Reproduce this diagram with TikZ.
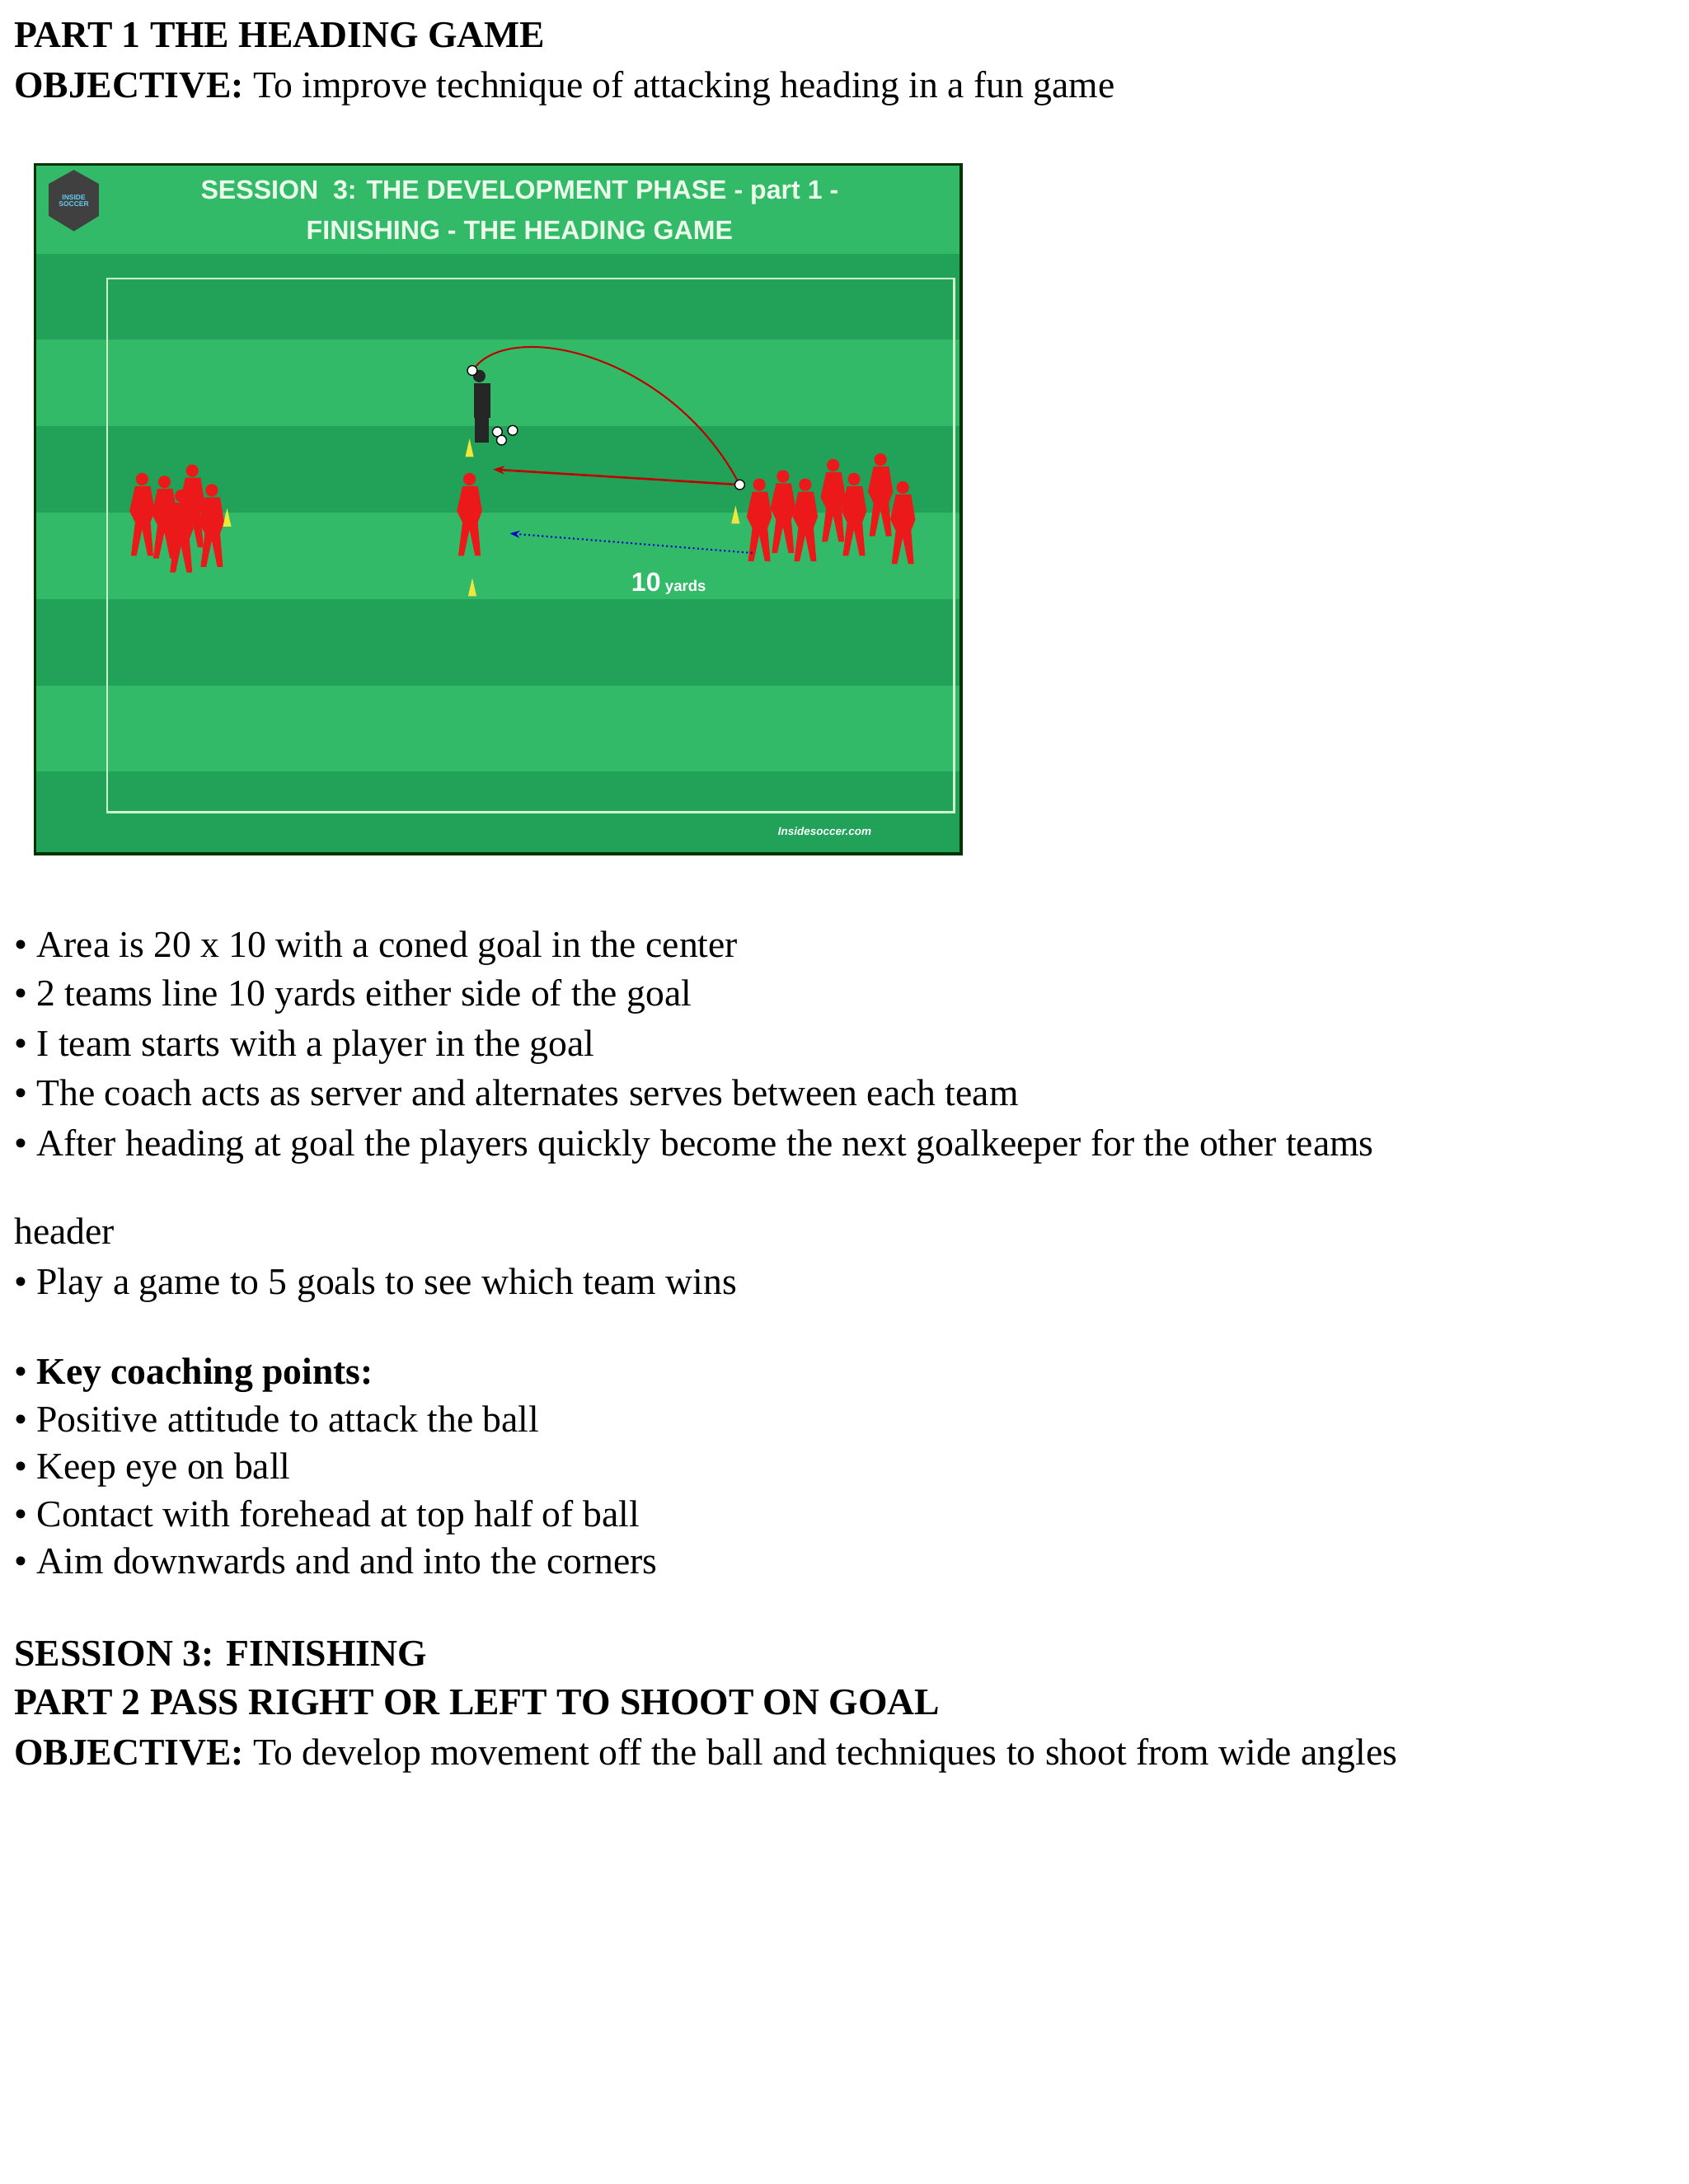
\documentclass[tikz,border=0pt]{standalone}
\usepackage{fontspec}
\setmainfont{Liberation Serif}
\newfontfamily\sansb{Liberation Sans}
\usetikzlibrary{arrows.meta}
\definecolor{glight}{RGB}{50,186,104}
\definecolor{gdark}{RGB}{34,162,88}
\definecolor{pred}{RGB}{235,25,25}
\definecolor{coney}{RGB}{240,230,60}
\tikzset{x=1pt,y=-1pt,
 txt/.style={anchor=base west,inner sep=0pt,font=\fontsize{27}{30}\selectfont},
 cone/.style={fill=coney},
 ball/.style={circle,draw=black,fill=white,inner sep=0pt,minimum size=7pt,line width=0.8pt}}
\newcommand{\plr}[2]{%
 \fill[pred] (#1,#2-28) circle (4.5);
 \fill[pred] (#1-5,#2-23) -- (#1+6,#2-23) -- (#1+9,#2-5) -- (#1+6,#2+3) -- (#1+8,#2+27) -- (#1+4,#2+27) -- (#1,#2+8) -- (#1-4,#2+27) -- (#1-8,#2+27) -- (#1-5,#2+3) -- (#1-9,#2-5) -- cycle;}
\newcommand{\cn}[2]{\fill[coney] (#1-3,#2+6) -- (#1,#2-7) -- (#1+3,#2+6) -- cycle;}
\begin{document}
\begin{tikzpicture}
\useasboundingbox (0,0) rectangle (1212,1568);
\fill[white] (0,0) rectangle (1212,1568);
\node[txt,font=\fontsize{27}{30}\selectfont\bfseries] (h1) at (10,34) {PART 1 THE HEADING GAME};
\node[txt] (h2) at (10,70) {\textbf{OBJECTIVE:} To improve technique of attacking heading in a fun game};
% field
\fill[glight] (25,118) rectangle (690,613);
\foreach \y in {182,306,430,554} \fill[gdark] (25,\y) rectangle (690,{min(\y+62,613)});
\draw[line width=2pt,black!80!green] (25,118) rectangle (690,613);
\draw[white!80!green,line width=1.5pt] (77,200) rectangle (685,583);
\fill[black!75] (53,122) -- (71,132) -- (71,155) -- (53,166) -- (35,155) -- (35,132) -- cycle;
\node[font=\sansb\bfseries\fontsize{5}{5}\selectfont,text=cyan!60,align=center] (logo) at (53,144) {INSIDE\\SOCCER};
\node[font=\sansb\bfseries\fontsize{19}{29}\selectfont,text=white!92!green,align=center] (title) at (373,151) {SESSION\ \ 3: THE DEVELOPMENT PHASE - part 1 -\\FINISHING - THE HEADING GAME};
\node[font=\sansb\bfseries\itshape\fontsize{8}{8}\selectfont,text=white] (web) at (592,597) {Insidesoccer.com};
% players left
\foreach \x/\y in {102/372,118/374,138/366,152/380,130/384} {\plr{\x}{\y}}
\cn{163}{372}
% players right
\foreach \x/\y in {545/376,562/370,578/376,598/362,613/372,632/358,648/378} {\plr{\x}{\y}}
\cn{528}{370}
% goal keeper and cones
\plr{337}{372}
\cn{337}{322}\cn{339}{422}
% coach
\fill[black!85] (344,270) circle (4.5);
\fill[black!85] (340,275) rectangle (352,300); \fill[black!85] (341,300) rectangle (351,318);
\node[ball] (b0) at (339,266) {};
\node[ball] (b1) at (357,310) {};\node[ball] (b2) at (368,309) {};\node[ball] (b3) at (360,316) {};
\node[ball] (b4) at (531,348) {};
\coordinate (tgt) at (354,337);
\draw[red!75!black,line width=1.2pt] (b0) .. controls (370,230) and (480,255) .. (b4);
\draw[red!75!black,line width=1.5pt,-{Stealth[length=8pt]}] (b4) -- (tgt);
\coordinate (ds) at (540,397); \coordinate (de) at (366,383);
\draw[blue!80!black,line width=1.2pt,dotted,-{Stealth[length=7pt]}] (ds) -- (de);
\node[font=\sansb\bfseries\fontsize{19}{19}\selectfont,text=white] (ten) at (480,419) {10\,{\fontsize{11}{11}\selectfont yards}};
% bullets
\node[txt] (l1) at (10,687) {• Area is 20 x 10 with a coned goal in the center};
\node[txt] (l2) at (10,722) {• 2 teams line 10 yards either side of the goal};
\node[txt] (l3) at (10,758) {• I team starts with a player in the goal};
\node[txt] (l4) at (10,794) {• The coach acts as server and alternates serves between each team};
\node[txt] (l5) at (10,830) {• After heading at goal the players quickly become the next goalkeeper for the other teams};
\node[txt] (l6) at (10,893) {header};
\node[txt] (l7) at (10,929) {• Play a game to 5 goals to see which team wins};
\node[txt] (l8) at (10,994) {• \textbf{Key coaching points:}};
\node[txt] (l9) at (10,1028) {• Positive attitude to attack the ball};
\node[txt] (l10) at (10,1062) {• Keep eye on ball};
\node[txt] (l11) at (10,1096) {• Contact with forehead at top half of ball};
\node[txt] (l12) at (10,1130) {• Aim downwards and and into the corners};
\node[txt,font=\fontsize{27}{30}\selectfont\bfseries] (s1) at (10,1196) {SESSION 3: FINISHING};
\node[txt,font=\fontsize{27}{30}\selectfont\bfseries] (s2) at (10,1231) {PART 2 PASS RIGHT OR LEFT TO SHOOT ON GOAL};
\node[txt] (s3) at (10,1267) {\textbf{OBJECTIVE:} To develop movement off the ball and techniques to shoot from wide angles};
\end{tikzpicture}
\end{document}
